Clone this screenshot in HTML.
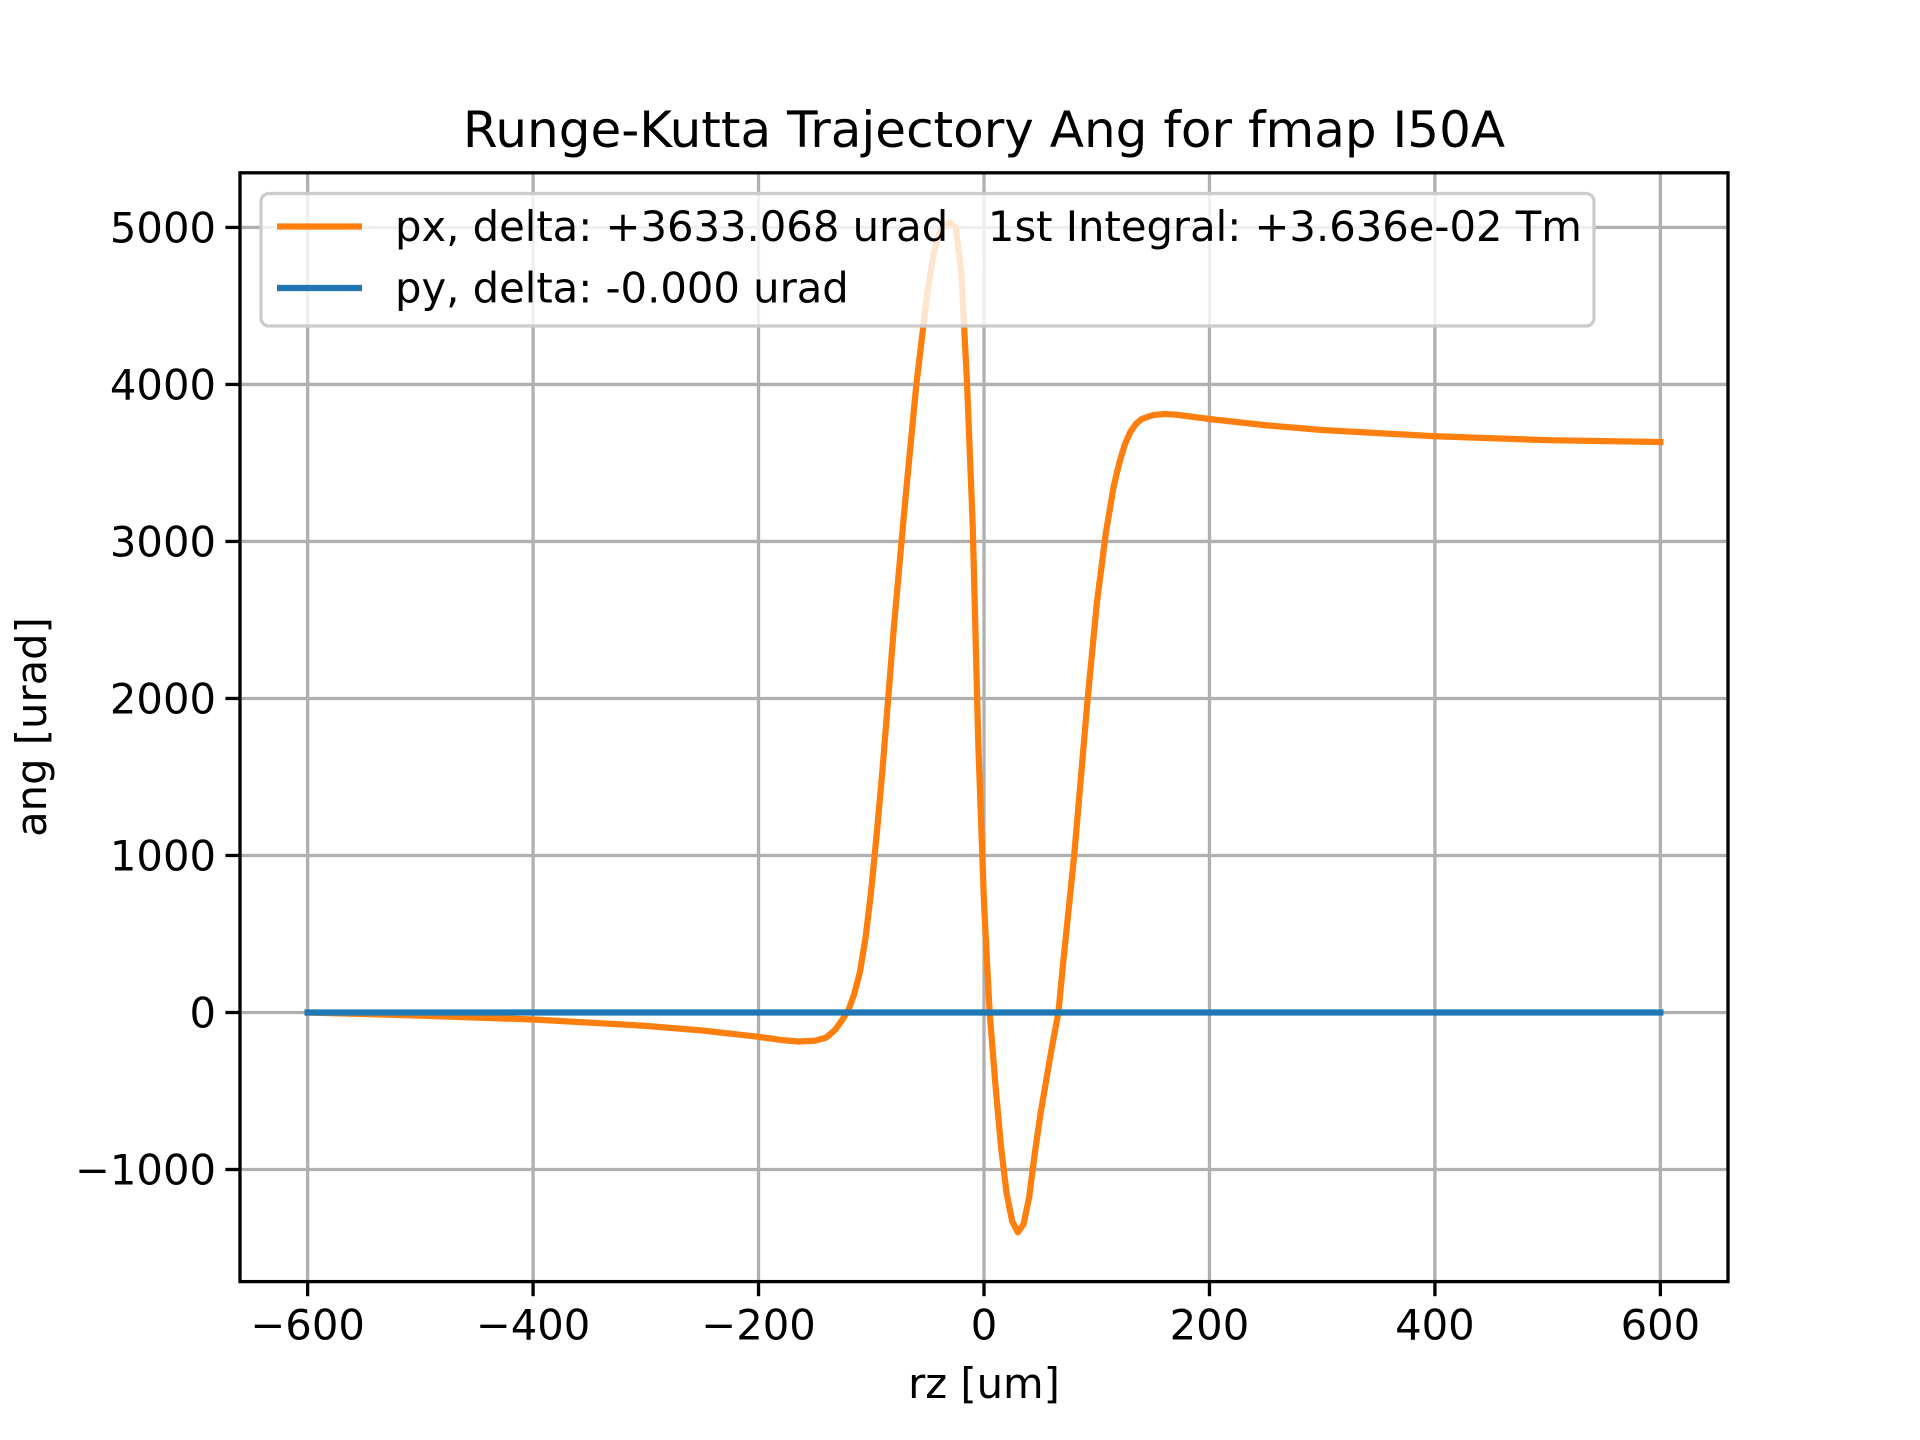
<!DOCTYPE html>
<html><head><meta charset="utf-8"><style>
html,body{margin:0;padding:0;background:#fff;}
svg{display:block;font-family:"DejaVu Sans","Liberation Sans",sans-serif;}
</style></head><body>
<svg id="chart" width="1920" height="1440" viewBox="0 0 1920 1440" xmlns="http://www.w3.org/2000/svg">
<rect x="0" y="0" width="1920" height="1440" fill="#fff"/>
<g id="grid"></g>
<g id="series"></g>
<rect x="240" y="172.8" width="1488" height="1108.8" fill="none" stroke="#000" stroke-width="3.3"/>
<g id="ticks"></g>
<text x="984" y="147" font-size="50" text-anchor="middle">Runge-Kutta Trajectory Ang for fmap I50A</text>
<text x="984" y="1398" font-size="41.7" text-anchor="middle">rz [um]</text>
<text transform="translate(46,727) rotate(-90)" font-size="41.7" text-anchor="middle">ang [urad]</text>
<g>
<rect x="261" y="193.5" width="1333" height="132.5" rx="8" fill="#ffffff" fill-opacity="0.8" stroke="#cccccc" stroke-width="3.3"/>
<line x1="277" y1="226.5" x2="362" y2="226.5" stroke="#ff7f0e" stroke-width="6.25"/>
<text x="395" y="241" font-size="41.7" xml:space="preserve" style="white-space:pre">px, delta: +3633.068 urad   1st Integral: +3.636e-02 Tm</text>
<line x1="277" y1="288" x2="362" y2="288" stroke="#1f77b4" stroke-width="6.25"/>
<text x="395" y="302.5" font-size="41.7">py, delta: -0.000 urad</text>
</g>
</svg>
<script>
const pxRz = [-600,-500,-400,-300,-250,-200,-180,-165,-150,-140,-132,-126,-120,-115,-110,-105,-100,-95,-90,-85,-80,-70,-60,-50,-45,-40,-35,-30,-25,-20,-15,-10,-5,0,5,10,15,20,25,30,35,40,45,50,60,66,70,80,92,100,108,115,120,125,130,135,140,150,160,170,200,250,300,400,500,600];
const pxVal = [0,-20,-45,-85,-115,-155,-175,-185,-180,-160,-110,-50,20,120,260,480,780,1150,1550,2000,2450,3250,4000,4600,4820,4960,5020,5030,5000,4700,4000,3100,1700,700,0,-450,-850,-1150,-1330,-1400,-1350,-1180,-900,-650,-230,0,300,1000,2000,2600,3050,3350,3500,3620,3700,3750,3780,3805,3812,3808,3780,3740,3710,3670,3645,3633];
const pyRz = [-600,600];
const pyVal = [0,0];
const xTicks = [-600,-400,-200,0,200,400,600];
const yTicks = [-1000,0,1000,2000,3000,4000,5000];
const xTickLabels = ["−600","−400","−200","0","200","400","600"];
const yTickLabels = ["−1000","0","1000","2000","3000","4000","5000"];
const X0=240,X1=1728,Y0=1281.6,Y1=172.8, XMIN=-660,XMAX=660,YMIN=-1714,YMAX=5348;
function sx(v){return X0+(v-XMIN)/(XMAX-XMIN)*(X1-X0);}
function sy(v){return Y0-(v-YMIN)/(YMAX-YMIN)*(Y0-Y1);}
const NS="http://www.w3.org/2000/svg";
function mk(t,a){const e=document.createElementNS(NS,t);for(const k in a)e.setAttribute(k,a[k]);return e;}
const grid=document.getElementById('grid'),ticks=document.getElementById('ticks'),series=document.getElementById('series');
xTicks.forEach((v,i)=>{const x=sx(v);
 const g=mk('line',{x1:x,y1:Y1,x2:x,y2:Y0,stroke:'#b0b0b0','stroke-width':3.3});
 
 
 grid.appendChild(g);
 const t=mk('line',{x1:x,y1:Y0,x2:x,y2:Y0+14.6,stroke:'#000','stroke-width':3.3});
 
 
 ticks.appendChild(t);
 const l=mk('text',{x:x,y:Y0+58,'font-size':41.7,'text-anchor':'middle'});
 
 
 l.textContent=xTickLabels[i];ticks.appendChild(l);});
yTicks.forEach((v,i)=>{const y=sy(v);
 const g=mk('line',{x1:X0,y1:y,x2:X1,y2:y,stroke:'#b0b0b0','stroke-width':3.3});
 
 
 grid.appendChild(g);
 const t=mk('line',{x1:X0-14.6,y1:y,x2:X0,y2:y,stroke:'#000','stroke-width':3.3});
 
 
 ticks.appendChild(t);
 const l=mk('text',{x:X0-24,y:y+15,'font-size':41.7,'text-anchor':'end'});
 
 
 l.textContent=yTickLabels[i];ticks.appendChild(l);});
function line(xs,ys,c,name){const p=mk('polyline',{points:xs.map((x,i)=>sx(x)+','+sy(ys[i])).join(' '),fill:'none',stroke:c,'stroke-width':6.25,'stroke-linejoin':'round','stroke-linecap':'square'});
 
 
 series.appendChild(p);}
line(pxRz,pxVal,'#ff7f0e','px-line');
line(pyRz,pyVal,'#1f77b4','py-line');
</script>
</body></html>
